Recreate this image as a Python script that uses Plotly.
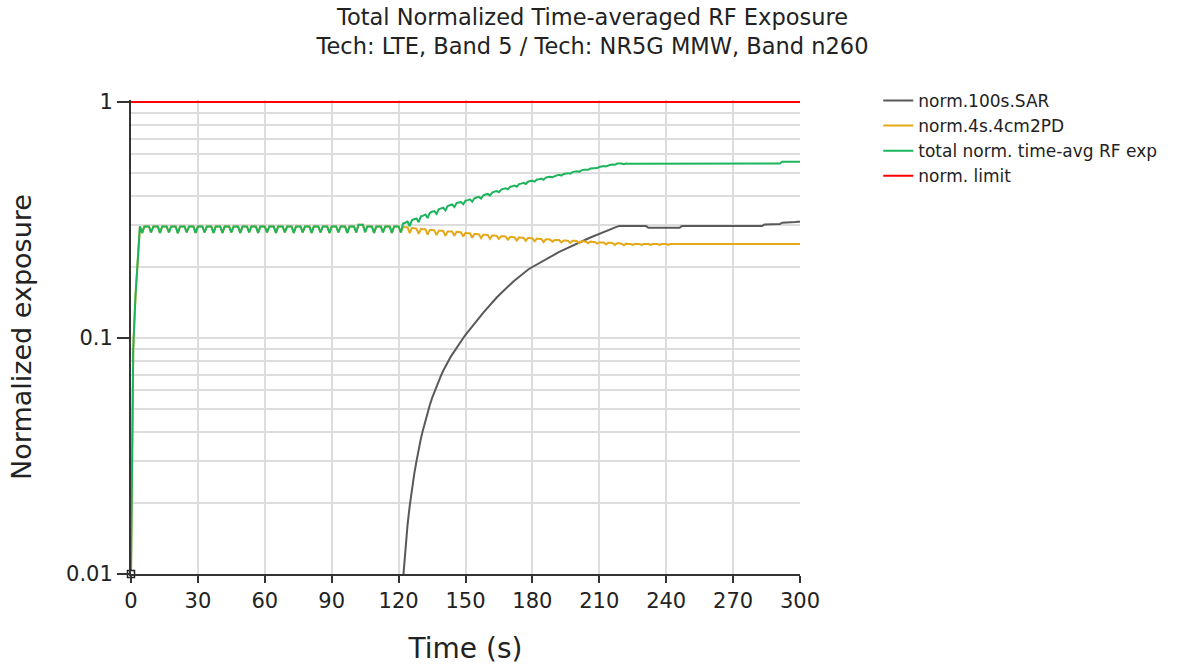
import plotly.graph_objects as go

# ---- data -------------------------------------------------------------
# common 1 s time grid for the time-averaged curves
time_s = list(range(0, 301))

# norm.4s.4cm2PD  (t = 0 .. 300 s)
pd_4s = [
    0.010, 0.090, 0.150, 0.210, 0.297, 0.279, 0.297, 0.297, 0.297, 0.280,
    0.297, 0.297, 0.297, 0.279, 0.297, 0.297, 0.297, 0.280, 0.297, 0.297,
    0.297, 0.278, 0.297, 0.297, 0.297, 0.280, 0.297, 0.297, 0.297, 0.279,
    0.297, 0.297, 0.297, 0.280, 0.297, 0.297, 0.297, 0.279, 0.297, 0.297,
    0.297, 0.279, 0.297, 0.297, 0.297, 0.280, 0.297, 0.297, 0.297, 0.279,
    0.297, 0.297, 0.297, 0.280, 0.297, 0.297, 0.297, 0.279, 0.297, 0.297,
    0.297, 0.280, 0.297, 0.297, 0.297, 0.279, 0.297, 0.297, 0.297, 0.280,
    0.297, 0.297, 0.297, 0.279, 0.297, 0.297, 0.297, 0.280, 0.297, 0.297,
    0.297, 0.279, 0.297, 0.297, 0.297, 0.280, 0.297, 0.297, 0.297, 0.279,
    0.297, 0.297, 0.297, 0.280, 0.297, 0.297, 0.297, 0.279, 0.297, 0.297,
    0.297, 0.280, 0.302, 0.302, 0.302, 0.281, 0.297, 0.297, 0.297, 0.279,
    0.297, 0.297, 0.297, 0.280, 0.297, 0.297, 0.297, 0.279, 0.297, 0.297,
    0.297, 0.280, 0.296, 0.295, 0.295, 0.278, 0.293, 0.292, 0.291, 0.276,
    0.290, 0.289, 0.289, 0.274, 0.287, 0.287, 0.286, 0.273, 0.285, 0.285,
    0.284, 0.271, 0.283, 0.283, 0.283, 0.271, 0.282, 0.281, 0.280, 0.269,
    0.279, 0.278, 0.278, 0.266, 0.276, 0.276, 0.275, 0.265, 0.274, 0.274,
    0.273, 0.263, 0.272, 0.272, 0.271, 0.263, 0.270, 0.270, 0.269, 0.261,
    0.268, 0.268, 0.267, 0.259, 0.267, 0.266, 0.266, 0.258, 0.265, 0.265,
    0.264, 0.257, 0.264, 0.263, 0.263, 0.255, 0.262, 0.262, 0.261, 0.256,
    0.260, 0.260, 0.260, 0.254, 0.259, 0.259, 0.258, 0.253, 0.258, 0.258,
    0.257, 0.252, 0.257, 0.257, 0.256, 0.252, 0.256, 0.255, 0.255, 0.251,
    0.254, 0.254, 0.254, 0.249, 0.253, 0.253, 0.252, 0.248, 0.252, 0.252,
    0.251, 0.247, 0.251, 0.250, 0.250, 0.248, 0.250, 0.250, 0.250, 0.248,
    0.250, 0.250, 0.250, 0.248, 0.250, 0.250, 0.250, 0.248, 0.250, 0.250,
    0.250, 0.248, 0.250, 0.250, 0.250, 0.250, 0.250, 0.250, 0.250, 0.250,
    0.250, 0.250, 0.250, 0.250, 0.250, 0.250, 0.250, 0.250, 0.250, 0.250,
    0.250, 0.250, 0.250, 0.250, 0.250, 0.250, 0.250, 0.250, 0.250, 0.250,
    0.250, 0.250, 0.250, 0.250, 0.250, 0.250, 0.250, 0.250, 0.250, 0.250,
    0.250, 0.250, 0.250, 0.250, 0.250, 0.250, 0.250, 0.250, 0.250, 0.250,
    0.250, 0.250, 0.250, 0.250, 0.250, 0.250, 0.250, 0.250, 0.250, 0.250,
    0.250,
]

# total norm. time-avg RF exp  (t = 0 .. 300 s)
total_exp = [
    0.010, 0.090, 0.150, 0.210, 0.297, 0.279, 0.297, 0.297, 0.297, 0.280,
    0.297, 0.297, 0.297, 0.279, 0.297, 0.297, 0.297, 0.280, 0.297, 0.297,
    0.297, 0.278, 0.297, 0.297, 0.297, 0.280, 0.297, 0.297, 0.297, 0.279,
    0.297, 0.297, 0.297, 0.280, 0.297, 0.297, 0.297, 0.279, 0.297, 0.297,
    0.297, 0.279, 0.297, 0.297, 0.297, 0.280, 0.297, 0.297, 0.297, 0.279,
    0.297, 0.297, 0.297, 0.280, 0.297, 0.297, 0.297, 0.279, 0.297, 0.297,
    0.297, 0.280, 0.297, 0.297, 0.297, 0.279, 0.297, 0.297, 0.297, 0.280,
    0.297, 0.297, 0.297, 0.279, 0.297, 0.297, 0.297, 0.280, 0.297, 0.297,
    0.297, 0.279, 0.297, 0.297, 0.297, 0.280, 0.297, 0.297, 0.297, 0.279,
    0.297, 0.297, 0.297, 0.280, 0.297, 0.297, 0.297, 0.279, 0.297, 0.297,
    0.297, 0.280, 0.302, 0.302, 0.302, 0.281, 0.297, 0.297, 0.297, 0.279,
    0.297, 0.297, 0.297, 0.280, 0.297, 0.297, 0.297, 0.279, 0.297, 0.297,
    0.297, 0.280, 0.3055, 0.3078, 0.3111, 0.2975, 0.316, 0.3185, 0.321, 0.3098,
    0.3275, 0.330, 0.3338, 0.3225, 0.339, 0.3426, 0.345, 0.3355, 0.351, 0.3543,
    0.3566, 0.347, 0.362, 0.365, 0.368, 0.359, 0.373, 0.375, 0.377, 0.369,
    0.382, 0.384, 0.387, 0.378, 0.391, 0.394, 0.3963, 0.3896, 0.402, 0.4054,
    0.4078, 0.4012, 0.4136, 0.417, 0.4194, 0.4148, 0.4252, 0.4286, 0.431, 0.4263,
    0.4366, 0.4399, 0.4422, 0.4375, 0.4488, 0.451, 0.4542, 0.4494, 0.4596, 0.4625,
    0.464, 0.4597, 0.4694, 0.4711, 0.4738, 0.4685, 0.4781, 0.4807, 0.4823, 0.4799,
    0.4865, 0.489, 0.4915, 0.488, 0.4955, 0.498, 0.4995, 0.497, 0.5045, 0.507,
    0.5085, 0.506, 0.5135, 0.516, 0.5175, 0.516, 0.5225, 0.524, 0.5265, 0.525,
    0.5305, 0.533, 0.5355, 0.533, 0.5395, 0.542, 0.5435, 0.542, 0.5485, 0.550,
    0.549, 0.545, 0.549, 0.548, 0.548, 0.546, 0.548, 0.548, 0.548, 0.546,
    0.548, 0.548, 0.548, 0.546, 0.548, 0.548, 0.548, 0.546, 0.548, 0.548,
    0.548, 0.546, 0.548, 0.548, 0.548, 0.548, 0.548, 0.549, 0.549, 0.549,
    0.549, 0.549, 0.549, 0.549, 0.549, 0.549, 0.549, 0.549, 0.549, 0.549,
    0.549, 0.549, 0.549, 0.549, 0.549, 0.549, 0.549, 0.549, 0.549, 0.549,
    0.549, 0.549, 0.549, 0.549, 0.549, 0.549, 0.549, 0.549, 0.549, 0.549,
    0.549, 0.549, 0.549, 0.549, 0.549, 0.549, 0.549, 0.549, 0.549, 0.549,
    0.549, 0.549, 0.558, 0.558, 0.558, 0.558, 0.558, 0.558, 0.558, 0.558,
    0.558,
]

# norm.100s.SAR starts once the LTE transmission begins
sar_time_s = list(range(122, 301))
sar_100s = [
    0.0095, 0.0128, 0.0161, 0.0195, 0.023, 0.0265, 0.030, 0.0338,
    0.0375, 0.041, 0.0448, 0.0485, 0.052, 0.0556, 0.059, 0.0625, 0.066, 0.0693,
    0.0726, 0.076, 0.079, 0.082, 0.085, 0.088, 0.091, 0.094, 0.097, 0.100,
    0.103, 0.106, 0.109, 0.112, 0.115, 0.118, 0.1213, 0.1246, 0.128, 0.1314,
    0.1348, 0.1382, 0.1416, 0.145, 0.1484, 0.1518, 0.1552, 0.1586, 0.162, 0.1653,
    0.1686, 0.1719, 0.1752, 0.1785, 0.1818, 0.185, 0.1882, 0.1914, 0.1946, 0.1975,
    0.200, 0.2027, 0.2054, 0.2081, 0.2108, 0.2135, 0.2161, 0.2187, 0.2213, 0.2239,
    0.2265, 0.229, 0.2315, 0.234, 0.2365, 0.239, 0.2415, 0.244, 0.2465, 0.249,
    0.2515, 0.254, 0.2565, 0.259, 0.2615, 0.264, 0.2665, 0.269, 0.2715, 0.274,
    0.2765, 0.279, 0.2815, 0.284, 0.2865, 0.289, 0.2915, 0.294, 0.2965, 0.298,
    0.298, 0.298, 0.298, 0.298, 0.298, 0.298, 0.298, 0.298, 0.298, 0.298,
    0.298, 0.298, 0.293, 0.293, 0.293, 0.293, 0.293, 0.293, 0.293, 0.293,
    0.293, 0.293, 0.293, 0.293, 0.293, 0.293, 0.293, 0.298, 0.298, 0.298,
    0.298, 0.298, 0.298, 0.298, 0.298, 0.298, 0.298, 0.298, 0.298, 0.298,
    0.298, 0.298, 0.298, 0.298, 0.298, 0.298, 0.298, 0.298, 0.298, 0.298,
    0.298, 0.298, 0.298, 0.298, 0.298, 0.298, 0.298, 0.298, 0.298, 0.298,
    0.298, 0.298, 0.298, 0.298, 0.303, 0.303, 0.303, 0.303, 0.303, 0.303,
    0.304, 0.304, 0.308, 0.308, 0.309, 0.309, 0.309, 0.310, 0.310, 0.311,
    0.311,
]

# normalized limit
limit_time_s = [0, 300]
norm_limit = [1.0, 1.0]

x_ticks = [0, 30, 60, 90, 120, 150, 180, 210, 240, 270, 300]
y_ticks = [0.01, 0.1, 1]
y_tick_text = ["0.01", "0.1", "1"]
y_minor = [0.02, 0.03, 0.04, 0.05, 0.06, 0.07, 0.08, 0.09,
           0.2, 0.3, 0.4, 0.5, 0.6, 0.7, 0.8, 0.9]

# ---- styling ----------------------------------------------------------
FONT = "Verdana, DejaVu Sans, sans-serif"
TEXT = "#222222"
GRID = "#dddddd"
AXIS = "#333333"

fig = go.Figure()

fig.add_trace(go.Scatter(
    x=sar_time_s, y=sar_100s, name="norm.100s.SAR", mode="lines",
    line=dict(color="#595959", width=2),
))
fig.add_trace(go.Scatter(
    x=time_s, y=pd_4s, name="norm.4s.4cm2PD", mode="lines",
    line=dict(color="#e6a817", width=2),
))
fig.add_trace(go.Scatter(
    x=time_s, y=total_exp, name="total norm. time-avg RF exp", mode="lines",
    line=dict(color="#1db55c", width=2),
))
fig.add_trace(go.Scatter(
    x=limit_time_s, y=norm_limit, name="norm. limit", mode="lines",
    line=dict(color="#ff0000", width=2),
))
# start-of-record marker
fig.add_trace(go.Scatter(
    x=[time_s[0]], y=[total_exp[0]], mode="markers", showlegend=False,
    marker=dict(symbol="square", size=7, color="white",
                line=dict(color=TEXT, width=1.5)),
    cliponaxis=False, hoverinfo="skip",
))

fig.update_layout(
    width=1185, height=665,
    margin=dict(l=131, r=385, t=100, b=91),
    paper_bgcolor="white", plot_bgcolor="white",
    font=dict(family=FONT, color=TEXT),
    title=dict(
        text="Total Normalized Time-averaged RF Exposure<br>"
             "Tech: LTE, Band 5 / Tech: NR5G MMW, Band n260",
        x=0.5, xanchor="center", xref="container",
        yref="container", y=0.963, yanchor="middle",
        font=dict(size=22.5, family=FONT, color=TEXT),
    ),
    legend=dict(
        x=1.117, xanchor="left", y=1.036, yanchor="top",
        font=dict(size=17, family=FONT, color=TEXT),
        bgcolor="rgba(0,0,0,0)", itemwidth=30,
    ),
    showlegend=True,
)

fig.update_xaxes(
    range=[0, 300], tickvals=x_ticks,
    showgrid=True, gridcolor=GRID, gridwidth=2, zeroline=False,
    showline=True, linecolor=AXIS, linewidth=2,
    ticks="outside", ticklen=7, tickwidth=2, tickcolor=AXIS,
    tickfont=dict(size=21, family=FONT, color=TEXT),
    title=dict(text="Time (s)", font=dict(size=28, family=FONT, color=TEXT),
               standoff=27),
    automargin=False,
)
fig.update_yaxes(
    type="log", range=[-2, 0.0085],
    tickvals=y_ticks, ticktext=y_tick_text,
    showgrid=True, gridcolor=GRID, gridwidth=2, zeroline=False,
    showline=True, linecolor=AXIS, linewidth=2,
    ticks="outside", ticklen=12, tickwidth=2, tickcolor=AXIS,
    tickfont=dict(size=21, family=FONT, color=TEXT),
    minor=dict(tickvals=y_minor, showgrid=True, gridcolor=GRID,
               gridwidth=2, ticks=""),
    title=dict(text="Normalized exposure",
               font=dict(size=27, family=FONT, color=TEXT), standoff=27),
    automargin=False,
)

fig.write_html("out.html")
